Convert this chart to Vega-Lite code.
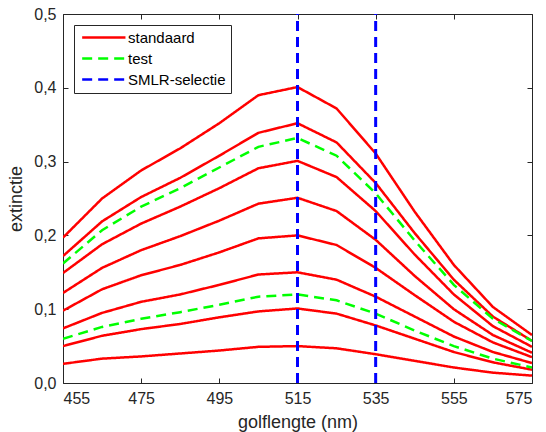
{
  "$schema": "https://vega.github.io/schema/vega-lite/v6.json",
  "width": 469,
  "height": 369,
  "autosize": "none",
  "padding": {"left": 63, "top": 14, "right": 14, "bottom": 49},
  "background": "white",
  "config": {
    "view": {"stroke": null},
    "font": "Liberation Sans",
    "axis": {
      "domainColor": "#262626",
      "domainWidth": 1,
      "tickColor": "#262626",
      "tickSize": -5,
      "grid": false,
      "labelFont": "Liberation Sans",
      "labelFontSize": 16,
      "labelColor": "#262626",
      "titleFont": "Liberation Sans",
      "titleFontSize": 18,
      "titleFontWeight": "normal",
      "titleColor": "#262626"
    },
    "legend": {
      "orient": "none",
      "legendX": 11,
      "legendY": 11,
      "title": null,
      "symbolType": "M-1,0L9,0",
      "symbolSize": 75,
      "symbolStrokeWidth": 2.5,
      "labelFont": "Liberation Sans",
      "labelFontSize": 15,
      "labelColor": "#000000",
      "labelOffset": 34,
      "strokeColor": "#262626",
      "fillColor": "white",
      "padding": 5,
      "rowPadding": 5
    }
  },
  "datasets": {
    "spectra": [
      {"nm":455,"ext":0.026,"reeks":"s1","soort":"standaard"},{"nm":465,"ext":0.033,"reeks":"s1","soort":"standaard"},{"nm":475,"ext":0.036,"reeks":"s1","soort":"standaard"},{"nm":485,"ext":0.040,"reeks":"s1","soort":"standaard"},{"nm":495,"ext":0.044,"reeks":"s1","soort":"standaard"},{"nm":505,"ext":0.049,"reeks":"s1","soort":"standaard"},{"nm":515,"ext":0.050,"reeks":"s1","soort":"standaard"},{"nm":525,"ext":0.047,"reeks":"s1","soort":"standaard"},{"nm":535,"ext":0.039,"reeks":"s1","soort":"standaard"},{"nm":545,"ext":0.030,"reeks":"s1","soort":"standaard"},{"nm":555,"ext":0.021,"reeks":"s1","soort":"standaard"},{"nm":565,"ext":0.014,"reeks":"s1","soort":"standaard"},{"nm":575,"ext":0.010,"reeks":"s1","soort":"standaard"},
      {"nm":455,"ext":0.050,"reeks":"s2","soort":"standaard"},{"nm":465,"ext":0.064,"reeks":"s2","soort":"standaard"},{"nm":475,"ext":0.073,"reeks":"s2","soort":"standaard"},{"nm":485,"ext":0.080,"reeks":"s2","soort":"standaard"},{"nm":495,"ext":0.089,"reeks":"s2","soort":"standaard"},{"nm":505,"ext":0.097,"reeks":"s2","soort":"standaard"},{"nm":515,"ext":0.101,"reeks":"s2","soort":"standaard"},{"nm":525,"ext":0.094,"reeks":"s2","soort":"standaard"},{"nm":535,"ext":0.078,"reeks":"s2","soort":"standaard"},{"nm":545,"ext":0.060,"reeks":"s2","soort":"standaard"},{"nm":555,"ext":0.042,"reeks":"s2","soort":"standaard"},{"nm":565,"ext":0.028,"reeks":"s2","soort":"standaard"},{"nm":575,"ext":0.018,"reeks":"s2","soort":"standaard"},
      {"nm":455,"ext":0.074,"reeks":"s3","soort":"standaard"},{"nm":465,"ext":0.095,"reeks":"s3","soort":"standaard"},{"nm":475,"ext":0.110,"reeks":"s3","soort":"standaard"},{"nm":485,"ext":0.120,"reeks":"s3","soort":"standaard"},{"nm":495,"ext":0.133,"reeks":"s3","soort":"standaard"},{"nm":505,"ext":0.147,"reeks":"s3","soort":"standaard"},{"nm":515,"ext":0.150,"reeks":"s3","soort":"standaard"},{"nm":525,"ext":0.140,"reeks":"s3","soort":"standaard"},{"nm":535,"ext":0.117,"reeks":"s3","soort":"standaard"},{"nm":545,"ext":0.090,"reeks":"s3","soort":"standaard"},{"nm":555,"ext":0.063,"reeks":"s3","soort":"standaard"},{"nm":565,"ext":0.042,"reeks":"s3","soort":"standaard"},{"nm":575,"ext":0.027,"reeks":"s3","soort":"standaard"},
      {"nm":455,"ext":0.098,"reeks":"s4","soort":"standaard"},{"nm":465,"ext":0.127,"reeks":"s4","soort":"standaard"},{"nm":475,"ext":0.146,"reeks":"s4","soort":"standaard"},{"nm":485,"ext":0.160,"reeks":"s4","soort":"standaard"},{"nm":495,"ext":0.177,"reeks":"s4","soort":"standaard"},{"nm":505,"ext":0.196,"reeks":"s4","soort":"standaard"},{"nm":515,"ext":0.200,"reeks":"s4","soort":"standaard"},{"nm":525,"ext":0.187,"reeks":"s4","soort":"standaard"},{"nm":535,"ext":0.156,"reeks":"s4","soort":"standaard"},{"nm":545,"ext":0.119,"reeks":"s4","soort":"standaard"},{"nm":555,"ext":0.083,"reeks":"s4","soort":"standaard"},{"nm":565,"ext":0.055,"reeks":"s4","soort":"standaard"},{"nm":575,"ext":0.035,"reeks":"s4","soort":"standaard"},
      {"nm":455,"ext":0.122,"reeks":"s5","soort":"standaard"},{"nm":465,"ext":0.156,"reeks":"s5","soort":"standaard"},{"nm":475,"ext":0.180,"reeks":"s5","soort":"standaard"},{"nm":485,"ext":0.199,"reeks":"s5","soort":"standaard"},{"nm":495,"ext":0.220,"reeks":"s5","soort":"standaard"},{"nm":505,"ext":0.243,"reeks":"s5","soort":"standaard"},{"nm":515,"ext":0.251,"reeks":"s5","soort":"standaard"},{"nm":525,"ext":0.233,"reeks":"s5","soort":"standaard"},{"nm":535,"ext":0.194,"reeks":"s5","soort":"standaard"},{"nm":545,"ext":0.145,"reeks":"s5","soort":"standaard"},{"nm":555,"ext":0.100,"reeks":"s5","soort":"standaard"},{"nm":565,"ext":0.065,"reeks":"s5","soort":"standaard"},{"nm":575,"ext":0.041,"reeks":"s5","soort":"standaard"},
      {"nm":455,"ext":0.149,"reeks":"s6","soort":"standaard"},{"nm":465,"ext":0.188,"reeks":"s6","soort":"standaard"},{"nm":475,"ext":0.216,"reeks":"s6","soort":"standaard"},{"nm":485,"ext":0.239,"reeks":"s6","soort":"standaard"},{"nm":495,"ext":0.264,"reeks":"s6","soort":"standaard"},{"nm":505,"ext":0.291,"reeks":"s6","soort":"standaard"},{"nm":515,"ext":0.301,"reeks":"s6","soort":"standaard"},{"nm":525,"ext":0.279,"reeks":"s6","soort":"standaard"},{"nm":535,"ext":0.233,"reeks":"s6","soort":"standaard"},{"nm":545,"ext":0.174,"reeks":"s6","soort":"standaard"},{"nm":555,"ext":0.120,"reeks":"s6","soort":"standaard"},{"nm":565,"ext":0.077,"reeks":"s6","soort":"standaard"},{"nm":575,"ext":0.049,"reeks":"s6","soort":"standaard"},
      {"nm":455,"ext":0.172,"reeks":"s7","soort":"standaard"},{"nm":465,"ext":0.219,"reeks":"s7","soort":"standaard"},{"nm":475,"ext":0.252,"reeks":"s7","soort":"standaard"},{"nm":485,"ext":0.278,"reeks":"s7","soort":"standaard"},{"nm":495,"ext":0.308,"reeks":"s7","soort":"standaard"},{"nm":505,"ext":0.339,"reeks":"s7","soort":"standaard"},{"nm":515,"ext":0.352,"reeks":"s7","soort":"standaard"},{"nm":525,"ext":0.326,"reeks":"s7","soort":"standaard"},{"nm":535,"ext":0.271,"reeks":"s7","soort":"standaard"},{"nm":545,"ext":0.203,"reeks":"s7","soort":"standaard"},{"nm":555,"ext":0.140,"reeks":"s7","soort":"standaard"},{"nm":565,"ext":0.090,"reeks":"s7","soort":"standaard"},{"nm":575,"ext":0.057,"reeks":"s7","soort":"standaard"},
      {"nm":455,"ext":0.197,"reeks":"s8","soort":"standaard"},{"nm":465,"ext":0.250,"reeks":"s8","soort":"standaard"},{"nm":475,"ext":0.288,"reeks":"s8","soort":"standaard"},{"nm":485,"ext":0.318,"reeks":"s8","soort":"standaard"},{"nm":495,"ext":0.352,"reeks":"s8","soort":"standaard"},{"nm":505,"ext":0.390,"reeks":"s8","soort":"standaard"},{"nm":515,"ext":0.401,"reeks":"s8","soort":"standaard"},{"nm":525,"ext":0.372,"reeks":"s8","soort":"standaard"},{"nm":535,"ext":0.311,"reeks":"s8","soort":"standaard"},{"nm":545,"ext":0.232,"reeks":"s8","soort":"standaard"},{"nm":555,"ext":0.160,"reeks":"s8","soort":"standaard"},{"nm":565,"ext":0.103,"reeks":"s8","soort":"standaard"},{"nm":575,"ext":0.065,"reeks":"s8","soort":"standaard"},
      {"nm":455,"ext":0.060,"reeks":"t1","soort":"test"},{"nm":465,"ext":0.076,"reeks":"t1","soort":"test"},{"nm":475,"ext":0.087,"reeks":"t1","soort":"test"},{"nm":485,"ext":0.096,"reeks":"t1","soort":"test"},{"nm":495,"ext":0.106,"reeks":"t1","soort":"test"},{"nm":505,"ext":0.117,"reeks":"t1","soort":"test"},{"nm":515,"ext":0.120,"reeks":"t1","soort":"test"},{"nm":525,"ext":0.112,"reeks":"t1","soort":"test"},{"nm":535,"ext":0.094,"reeks":"t1","soort":"test"},{"nm":545,"ext":0.071,"reeks":"t1","soort":"test"},{"nm":555,"ext":0.050,"reeks":"t1","soort":"test"},{"nm":565,"ext":0.033,"reeks":"t1","soort":"test"},{"nm":575,"ext":0.021,"reeks":"t1","soort":"test"},
      {"nm":455,"ext":0.162,"reeks":"t2","soort":"test"},{"nm":465,"ext":0.207,"reeks":"t2","soort":"test"},{"nm":475,"ext":0.239,"reeks":"t2","soort":"test"},{"nm":485,"ext":0.264,"reeks":"t2","soort":"test"},{"nm":495,"ext":0.292,"reeks":"t2","soort":"test"},{"nm":505,"ext":0.320,"reeks":"t2","soort":"test"},{"nm":515,"ext":0.332,"reeks":"t2","soort":"test"},{"nm":525,"ext":0.308,"reeks":"t2","soort":"test"},{"nm":535,"ext":0.257,"reeks":"t2","soort":"test"},{"nm":545,"ext":0.193,"reeks":"t2","soort":"test"},{"nm":555,"ext":0.133,"reeks":"t2","soort":"test"},{"nm":565,"ext":0.087,"reeks":"t2","soort":"test"},{"nm":575,"ext":0.057,"reeks":"t2","soort":"test"}
    ],
    "selectie": [
      {"nm": 515, "soort": "SMLR-selectie"},
      {"nm": 535, "soort": "SMLR-selectie"}
    ]
  },
  "layer": [
    {
      "data": {"name": "spectra"},
      "mark": {"type": "line", "strokeWidth": 2.5, "clip": true},
      "encoding": {
        "x": {
          "field": "nm", "type": "quantitative",
          "scale": {"domain": [455, 575], "nice": false, "zero": false},
          "axis": {"orient": "bottom", "values": [455, 475, 495, 515, 535, 555, 575], "title": "golflengte (nm)", "labelPadding": 12, "titlePadding": 7}
        },
        "y": {
          "field": "ext", "type": "quantitative",
          "scale": {"domain": [0, 0.5], "nice": false},
          "axis": {"orient": "left", "values": [0, 0.1, 0.2, 0.3, 0.4, 0.5], "title": "extinctie", "labelPadding": 12, "titlePadding": 8,
                   "labelExpr": "replace(format(datum.value, '.1f'), '.', ',')"}
        },
        "color": {
          "field": "soort", "type": "nominal",
          "scale": {"domain": ["standaard", "test", "SMLR-selectie"], "range": ["#ff0000", "#00ff00", "#0000ff"]}
        },
        "strokeDash": {
          "field": "soort", "type": "nominal",
          "scale": {"domain": ["standaard", "test", "SMLR-selectie"], "range": [[1, 0], [10, 6], [10, 6]]}
        },
        "detail": {"field": "reeks"},
        "order": {"field": "nm", "type": "quantitative"}
      }
    },
    {
      "data": {"name": "selectie"},
      "mark": {"type": "rule", "strokeWidth": 3},
      "encoding": {
        "x": {
          "field": "nm", "type": "quantitative",
          "axis": {"orient": "top", "values": [455, 475, 495, 515, 535, 555, 575], "labels": false, "title": null}
        },
        "y": {"datum": 0, "type": "quantitative",
              "axis": {"orient": "right", "values": [0, 0.1, 0.2, 0.3, 0.4, 0.5], "labels": false, "title": null}},
        "y2": {"datum": 0.5},
        "color": {"field": "soort", "type": "nominal"},
        "strokeDash": {"field": "soort", "type": "nominal"}
      }
    }
  ],
  "resolve": {"axis": {"x": "independent", "y": "independent"}}
}
